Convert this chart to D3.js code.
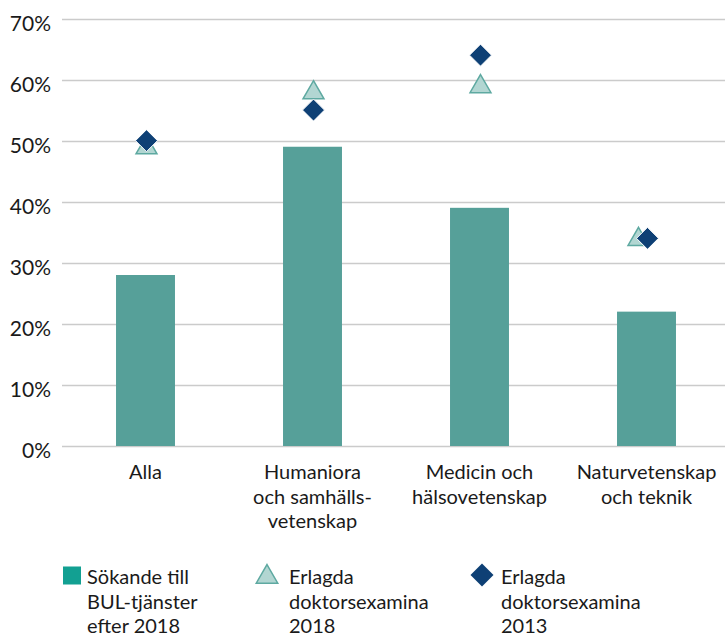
<!DOCTYPE html>
<html>
<head>
<meta charset="utf-8">
<script src="https://cdn.jsdelivr.net/npm/d3@7"></script>
<style>
  html, body { margin: 0; padding: 0; background: #fff; }
  svg { display: block; }
  text { font-family: Lato, "Open Sans", sans-serif; fill: #1a1a1a; }
</style>
</head>
<body>
<svg id="chart" width="725" height="637"></svg>
<script>
// ---- Data ----
const categories = [
  ["Alla"],
  ["Humaniora", "och samhälls-", "vetenskap"],
  ["Medicin och", "hälsovetenskap"],
  ["Naturvetenskap", "och teknik"]
];
const sokande2018 = [0.28, 0.49, 0.39, 0.22];      // bars
const doktor2018 = [0.49, 0.58, 0.59, 0.34];       // triangles
const doktor2013 = [0.50, 0.55, 0.64, 0.34];       // diamonds
const yTicks = [0, 0.1, 0.2, 0.3, 0.4, 0.5, 0.6, 0.7];
const legendLabels = [
  ["Sökande till", "BUL-tjänster", "efter 2018"],
  ["Erlagda", "doktorsexamina", "2018"],
  ["Erlagda", "doktorsexamina", "2013"]
];

// ---- Styles ----
const barColor = "#56a099";
const legendSquareColor = "#12a092";
const triFill = "#b2d6d2";
const triStroke = "#5ea9a1";
const diaColor = "#0e4075";
const gridColor = "#cbcbcb";

const svg = d3.select("#chart");
const idx = d3.range(categories.length);

const x = d3.scaleBand().domain(idx).range([62, 730]).paddingInner(0.647).paddingOuter(0.3235);
const y = d3.scaleLinear().domain([0, 0.7]).range([446, 18.5]);

// gridlines
svg.append("g").selectAll("line").data(yTicks).join("line")
  .attr("x1", 62).attr("x2", 725)
  .attr("y1", d => Math.round(y(d)) + 0.5).attr("y2", d => Math.round(y(d)) + 0.5)
  .attr("stroke", gridColor).attr("stroke-width", 1.5);

// y axis labels
const yAxis = d3.axisLeft(y).tickValues(yTicks).tickFormat(d3.format(".0%")).tickSize(0).tickPadding(0);
const yg = svg.append("g").attr("transform", "translate(51,0)").call(yAxis);
yg.select(".domain").remove();
yg.selectAll("text").attr("font-size", 21).attr("dy", "0.55em")
  .style("font-family", "Lato, sans-serif").attr("fill", "#1a1a1a");

// bars
svg.append("g").selectAll("rect").data(idx).join("rect")
  .attr("x", i => x(i)).attr("width", x.bandwidth())
  .attr("y", i => y(sokande2018[i])).attr("height", i => y(0) - y(sokande2018[i]))
  .attr("fill", barColor);

const cx = i => x(i) + x.bandwidth() / 2 + 1;

// triangles
const triSym = d3.symbol().type(d3.symbolTriangle).size(190);
svg.append("g").selectAll("path").data(idx).join("path")
  .attr("d", triSym)
  .attr("transform", i => {
    const dodge = Math.abs(doktor2018[i] - doktor2013[i]) < 0.005 ? -9 : 0;
    return `translate(${cx(i) + dodge},${y(doktor2018[i]) + 1})`;
  })
  .attr("fill", triFill).attr("stroke", triStroke).attr("stroke-width", 1.5);

// diamonds
svg.append("g").selectAll("path").data(idx).join("path")
  .attr("d", "M0,-11L11,0L0,11L-11,0Z")
  .attr("transform", i => `translate(${cx(i)},${y(doktor2013[i])})`)
  .attr("fill", diaColor).attr("stroke", "#fff").attr("stroke-width", 1);

// category labels
const cat = svg.append("g").selectAll("text").data(idx).join("text")
  .attr("text-anchor", "middle").attr("font-size", 20)
  .attr("transform", i => `translate(${x(i) + x.bandwidth() / 2},479)`);
cat.selectAll("tspan").data(i => categories[i]).join("tspan")
  .attr("x", 0).attr("y", (d, j) => j * 24.5).text(d => d);

// legend
const legX = [63, 256, 471];
const lg = svg.append("g");
lg.append("rect").attr("x", legX[0]).attr("y", 566.5).attr("width", 18).attr("height", 18).attr("fill", legendSquareColor);
lg.append("path").attr("d", d3.symbol().type(d3.symbolTriangle).size(200))
  .attr("transform", `translate(${legX[1] + 11},577)`)
  .attr("fill", triFill).attr("stroke", triStroke).attr("stroke-width", 1.5);
lg.append("path").attr("d", "M0,-11.5L11.5,0L0,11.5L-11.5,0Z")
  .attr("transform", `translate(${legX[2] + 11},575)`)
  .attr("fill", diaColor);
const legTextX = [87, 289, 501];
legendLabels.forEach((lines, k) => {
  const t = lg.append("text").attr("font-size", 20).attr("transform", `translate(${legTextX[k]},584)`);
  t.selectAll("tspan").data(lines).join("tspan").attr("x", 0).attr("y", (d, j) => j * 24.5).text(d => d);
});
</script>
</body>
</html>
